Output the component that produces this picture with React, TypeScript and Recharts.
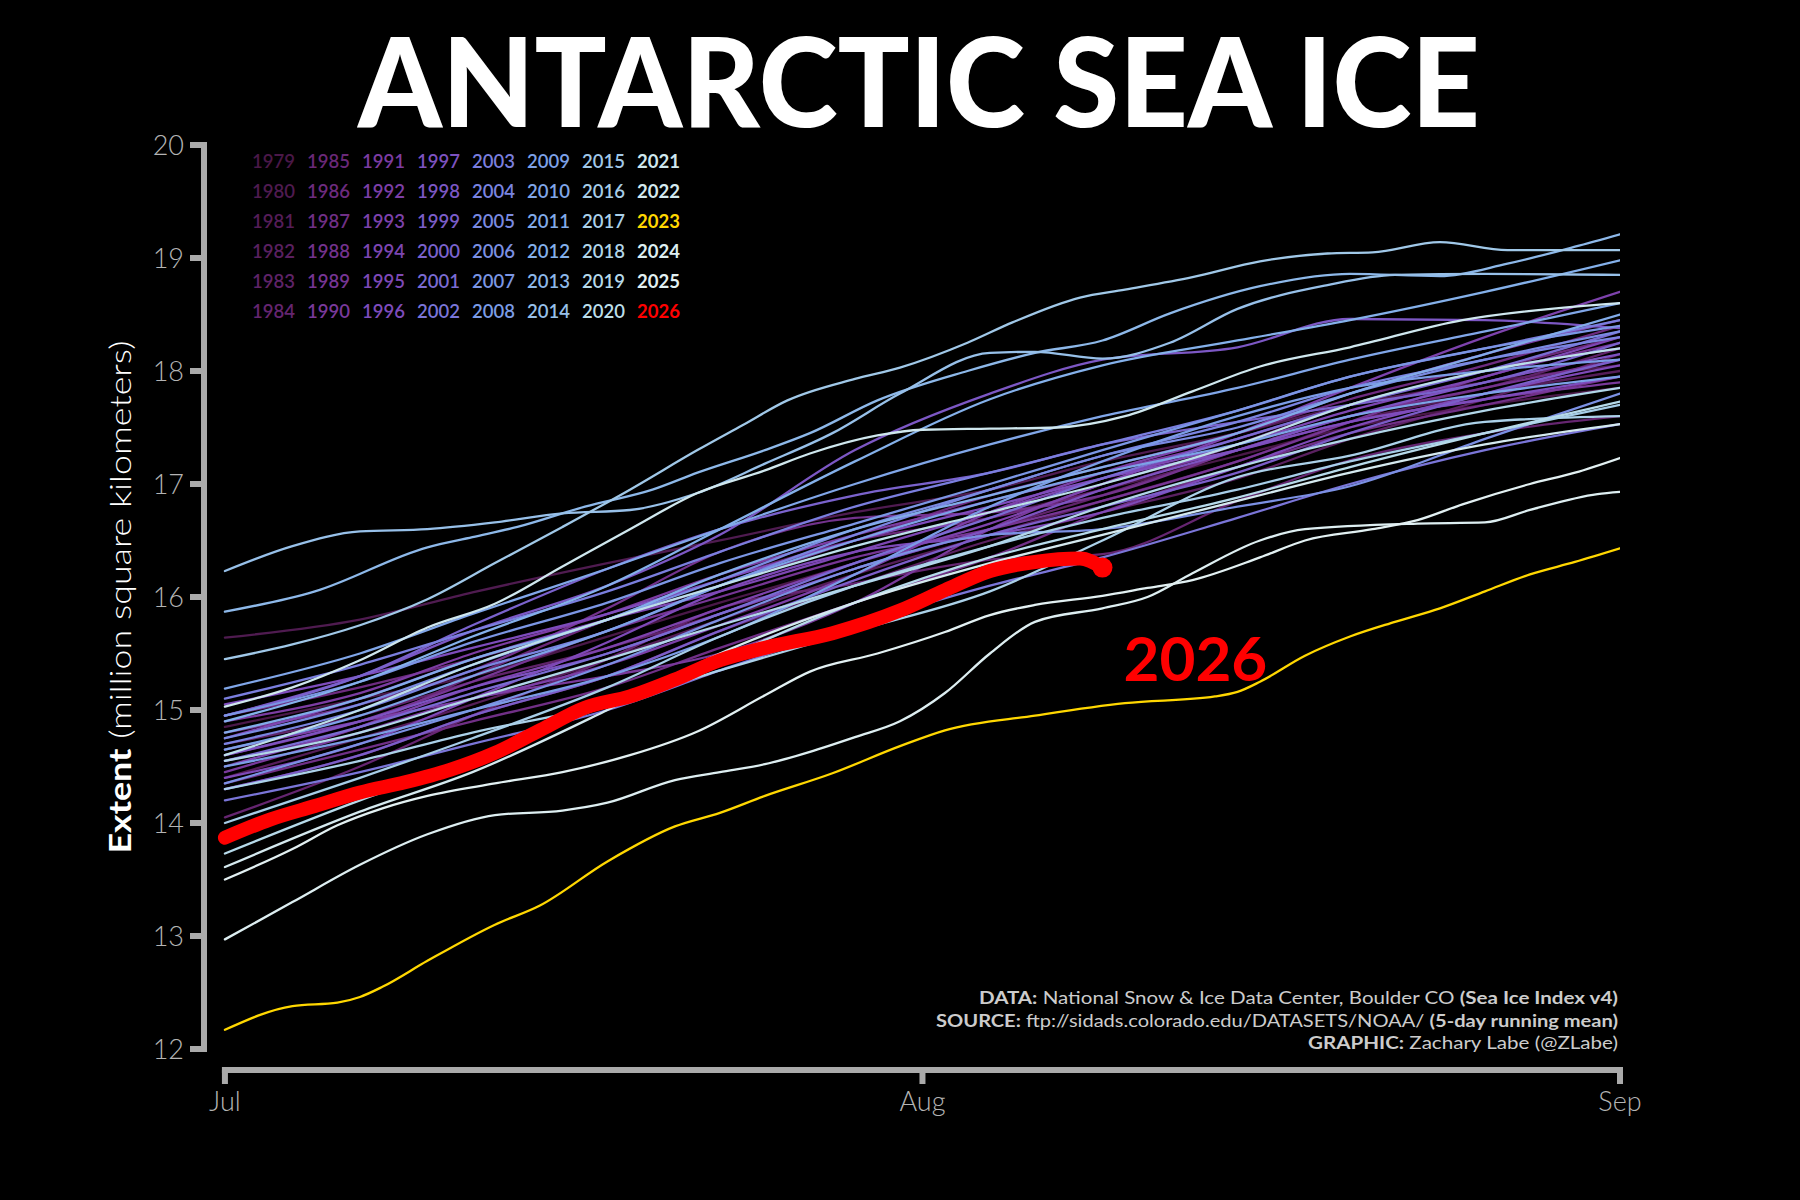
import React from 'react';
import { LineChart, Line, XAxis, YAxis, ReferenceLine, LabelList } from 'recharts';

// days since Jul 1 for the background years
const DAYS = [0, 6, 11, 17, 22, 28, 34, 39, 45, 50, 56, 62];

// million km², one row per year, sampled on DAYS
const EXTENT_1979_1984 = [
  [14.85, 15.1, 15.3, 15.65, 15.95, 16.3, 16.7, 16.95, 17.25, 17.5, 17.7, 17.85],
  [15.64, 15.8, 16.04, 16.3, 16.5, 16.75, 16.95, 17.2, 17.45, 17.7, 17.9, 18.05],
  [14.4, 14.75, 15.05, 15.45, 15.8, 16.2, 16.55, 16.85, 17.2, 17.55, 17.8, 18.0],
  [14.3, 14.6, 14.95, 15.3, 15.7, 16.1, 16.5, 16.75, 17.05, 17.4, 17.75, 18.15],
  [14.7, 14.95, 15.25, 15.55, 15.85, 16.25, 16.6, 16.9, 17.3, 17.6, 17.85, 18.2],
  [14.05, 14.5, 14.95, 15.45, 15.9, 16.12, 16.33, 16.38, 16.85, 17.21, 17.45, 17.6],
];
const EXTENT_1985_1990 = [
  [14.55, 14.85, 15.3, 15.8, 16.15, 16.5, 16.7, 16.95, 17.35, 17.7, 18.0, 18.3],
  [14.95, 15.2, 15.45, 15.8, 16.1, 16.5, 16.9, 17.15, 17.45, 17.75, 18.05, 18.4],
  [14.35, 14.65, 14.9, 15.2, 15.55, 15.95, 16.35, 16.75, 17.15, 17.45, 17.7, 17.95],
  [14.8, 15.05, 15.35, 15.9, 16.4, 16.7, 16.75, 16.9, 17.3, 17.6, 17.85, 18.1],
  [14.6, 14.9, 15.25, 15.7, 16.0, 16.35, 16.6, 16.85, 17.2, 17.55, 17.95, 18.25],
  [14.45, 14.8, 15.1, 15.3, 15.5, 15.95, 16.6, 17.0, 17.3, 17.55, 17.75, 17.9],
];
const EXTENT_1991_1996 = [
  [14.9, 15.15, 15.5, 15.85, 16.2, 16.55, 16.85, 17.1, 17.4, 17.7, 18.0, 18.2],
  [14.65, 14.9, 15.1, 15.4, 15.75, 16.2, 16.75, 17.1, 17.45, 17.8, 18.15, 18.45],
  [14.5, 14.85, 15.2, 15.55, 15.9, 16.3, 16.65, 17.0, 17.45, 17.85, 18.3, 18.7],
  [14.75, 15.1, 15.45, 15.8, 16.05, 16.4, 16.75, 17.05, 17.35, 17.65, 17.95, 18.3],
  [14.4, 14.7, 15.1, 15.6, 16.05, 16.4, 16.55, 16.75, 17.15, 17.5, 17.8, 18.05],
  [15.05, 15.3, 15.55, 15.85, 16.15, 16.5, 16.8, 17.05, 17.3, 17.55, 17.75, 17.95],
];
const EXTENT_1997_2002 = [
  [14.6, 14.9, 15.2, 15.5, 15.85, 16.25, 16.6, 16.95, 17.3, 17.6, 17.9, 18.15],
  [14.95, 15.3, 15.7, 16.1, 16.55, 17.3, 17.8, 18.1, 18.21, 18.46, 18.45, 18.38],
  [14.3, 14.6, 14.95, 15.3, 15.7, 16.15, 16.55, 16.8, 17.1, 17.45, 17.8, 18.1],
  [14.95, 15.3, 15.75, 16.25, 16.6, 16.9, 17.1, 17.35, 17.55, 17.7, 17.9, 18.25],
  [14.55, 14.85, 15.15, 15.5, 15.85, 16.3, 16.7, 17.05, 17.4, 17.7, 18.0, 18.35],
  [14.2, 14.45, 14.7, 15.0, 15.35, 15.75, 16.1, 16.35, 16.7, 17.0, 17.3, 17.53],
];
const EXTENT_2003_2008 = [
  [15.1, 15.4, 15.7, 16.05, 16.4, 16.8, 17.1, 17.35, 17.65, 17.95, 18.2, 18.45],
  [14.7, 15.0, 15.35, 15.7, 16.1, 16.55, 16.95, 17.25, 17.55, 17.85, 18.1, 18.3],
  [14.75, 15.05, 15.4, 15.8, 16.15, 16.6, 16.95, 17.25, 17.5, 17.8, 18.1, 18.35],
  [14.35, 14.7, 15.0, 15.4, 15.8, 16.25, 16.55, 16.6, 16.8, 16.98, 17.4, 17.8],
  [14.95, 15.25, 15.6, 15.95, 16.3, 16.65, 17.0, 17.3, 17.65, 17.95, 18.2, 18.4],
  [14.5, 14.75, 15.0, 15.3, 15.65, 16.2, 16.8, 17.2, 17.6, 17.85, 18.0, 18.1],
];
const EXTENT_2009_2012 = [
  [14.65, 14.95, 15.3, 15.7, 16.1, 16.5, 16.85, 17.1, 17.35, 17.6, 17.8, 17.95],
  [15.19, 15.5, 15.85, 16.25, 16.6, 17.0, 17.35, 17.6, 17.85, 18.1, 18.35, 18.6],
  [14.8, 15.1, 15.45, 15.8, 16.2, 16.6, 16.9, 17.15, 17.45, 17.8, 18.15, 18.5],
  [14.9, 15.25, 15.65, 16.1, 16.6, 17.2, 17.75, 18.05, 18.27, 18.45, 18.7, 18.98],
];
const EXTENT_2016_2020 = [
  [14.0, 14.4, 14.75, 15.2, 15.65, 16.1, 16.45, 16.7, 16.95, 17.2, 17.45, 17.7],
  [14.3, 14.55, 14.8, 15.05, 15.35, 15.7, 16.05, 16.5, 17.06, 17.25, 17.55, 17.6],
  [14.55, 14.8, 15.1, 15.45, 15.75, 16.1, 16.45, 16.8, 17.15, 17.4, 17.65, 17.85],
  [13.73, 14.2, 14.55, 15.05, 15.45, 15.95, 16.35, 16.6, 16.88, 17.15, 17.45, 17.73],
  [14.6, 15.0, 15.4, 15.8, 16.1, 16.45, 16.75, 17.0, 17.35, 17.7, 18.0, 18.2],
];
const EXTENT_2022 = [13.61, 14.1, 14.45, 15.0, 15.5, 15.95, 16.3, 16.55, 16.85, 17.1, 17.35, 17.53];

// years that stand out, read more closely: [day, extent]
const EXTENT_2013: [number, number][] = [
  [0, 15.87], [4, 16.05], [9, 16.44], [11, 16.53], [13, 16.62], [16, 16.8], [19, 16.95], [21, 17.1], [24, 17.3],
  [26, 17.45], [29, 17.74], [33, 18.0], [36, 18.16], [39, 18.27], [42, 18.51], [46, 18.75], [50, 18.86],
  [54, 18.84], [57, 18.95], [60, 19.1], [62, 19.21],
];
const EXTENT_2014: [number, number][] = [
  [0, 16.23], [3, 16.45], [6, 16.58], [9, 16.6], [12, 16.66], [15, 16.74], [18, 16.77], [21, 16.92], [24, 17.18],
  [27, 17.45], [30, 17.8], [34, 18.16], [36, 18.17], [39, 18.11], [42, 18.25], [45, 18.55], [49, 18.76],
  [52, 18.85], [56, 18.86], [62, 18.85],
];
const EXTENT_2015: [number, number][] = [
  [0, 15.45], [3, 15.58], [6, 15.75], [9, 15.98], [12, 16.3], [15, 16.62], [18, 16.95], [21, 17.3], [23, 17.52],
  [25, 17.74], [28, 17.93], [30, 18.03], [33, 18.25], [35, 18.43], [38, 18.65], [40, 18.72], [43, 18.83],
  [46, 18.97], [49, 19.04], [51, 19.05], [54, 19.14], [57, 19.07], [62, 19.07],
];
const EXTENT_2021: [number, number][] = [
  [0, 15.03], [3, 15.2], [6, 15.44], [9, 15.73], [12, 15.94], [15, 16.27], [18, 16.6], [21, 16.92], [24, 17.12],
  [26, 17.27], [29, 17.43], [31, 17.48], [34, 17.49], [37, 17.5], [40, 17.6], [43, 17.82], [46, 18.04],
  [50, 18.21], [55, 18.45], [60, 18.57], [62, 18.6],
];
const EXTENT_2023: [number, number][] = [
  [0, 12.17], [3, 12.38], [5, 12.41], [6, 12.46], [7, 12.55], [9, 12.78], [12, 13.1], [14, 13.27], [17, 13.66],
  [20, 13.97], [22, 14.09], [24, 14.24], [27, 14.44], [30, 14.68], [32, 14.82], [36, 14.95], [40, 15.06],
  [44, 15.12], [45, 15.16], [46, 15.25], [48, 15.48], [50, 15.65], [52, 15.78], [54, 15.9], [56, 16.05],
  [58, 16.2], [60, 16.31], [62, 16.43],
];
const EXTENT_2024: [number, number][] = [
  [0, 12.97], [3, 13.3], [6, 13.63], [9, 13.9], [12, 14.07], [15, 14.11], [17, 14.18], [20, 14.38], [22, 14.45],
  [24, 14.52], [26, 14.63], [28, 14.76], [30, 14.9], [32, 15.15], [34, 15.5], [36, 15.78], [39, 15.9], [41, 16.0],
  [43, 16.21], [46, 16.5], [48, 16.6], [53, 16.65], [56, 16.66], [58, 16.77], [61, 16.91], [62, 16.93],
];
const EXTENT_2025: [number, number][] = [
  [0, 13.5], [3, 13.77], [5, 13.98], [7, 14.13], [9, 14.24], [12, 14.35], [15, 14.45], [18, 14.6], [21, 14.81],
  [24, 15.13], [26, 15.34], [29, 15.5], [32, 15.69], [34, 15.84], [36, 15.93], [39, 16.01], [41, 16.08],
  [43, 16.15], [46, 16.35], [48, 16.5], [51, 16.6], [53, 16.68], [55, 16.82], [58, 17.0], [60, 17.1], [62, 17.23],
];
const EXTENT_2026: [number, number][] = [
  [0, 13.87], [2, 14.03], [4, 14.15], [6, 14.27], [8, 14.36], [10, 14.47], [12, 14.62], [14, 14.82], [16, 15.02],
  [18, 15.12], [20, 15.27], [22, 15.44], [24, 15.55], [27, 15.68], [30, 15.88], [32, 16.06], [34, 16.23],
  [36, 16.31], [38, 16.34], [39, 16.26],
];

const MONTH_TICKS = [0, 31, 62];
const MONTH_LABELS = ['Jul', 'Aug', 'Sep'];
const EXTENT_TICKS = [12, 13, 14, 15, 16, 17, 18, 19, 20];
const FIRST_YEAR = 1979;
const LAST_YEAR = 2026;

const FONT = 'Lato, "Open Sans", sans-serif';
const AXIS = '#aaaaaa';
// the spines are offset from the data, as in the original
const X_MIN = -0.93;
const Y_MIN = 11.814;

const COLOR_STOPS: [number, string][] = [
  [1979, '#4a1848'], [1985, '#6a2878'], [1991, '#7c3ca2'], [1996, '#7e4cbc'], [2000, '#7a62cc'],
  [2003, '#7a7ede'], [2008, '#7b9ce6'], [2012, '#84b0ea'], [2015, '#a0c8e8'], [2020, '#bcdfea'],
  [2021, '#cfe7ee'], [2025, '#e2f0f2'],
];

function mix(a: string, b: string, t: number) {
  const pa = [1, 3, 5].map((i) => parseInt(a.slice(i, i + 2), 16));
  const pb = [1, 3, 5].map((i) => parseInt(b.slice(i, i + 2), 16));
  return '#' + pa.map((v, i) => Math.round(v + (pb[i] - v) * t).toString(16).padStart(2, '0')).join('');
}

function yearColor(year: number) {
  if (year === 2023) return '#ffd700';
  if (year === 2026) return '#ff0000';
  for (let i = 0; i < COLOR_STOPS.length - 1; i++) {
    const [y0, c0] = COLOR_STOPS[i];
    const [y1, c1] = COLOR_STOPS[i + 1];
    if (year <= y1) return mix(c0, c1, (year - y0) / (y1 - y0));
  }
  return COLOR_STOPS[COLOR_STOPS.length - 1][1];
}

type Pt = { day: number; extent: number };
const onGrid = (vals: number[]): Pt[] => vals.map((v, i) => ({ day: DAYS[i], extent: v }));
const fromPairs = (p: [number, number][]): Pt[] => p.map(([day, extent]) => ({ day, extent }));

const series: { year: number; points: Pt[] }[] = [
  ...EXTENT_1979_1984.map((v, i) => ({ year: 1979 + i, points: onGrid(v) })),
  ...EXTENT_1985_1990.map((v, i) => ({ year: 1985 + i, points: onGrid(v) })),
  ...EXTENT_1991_1996.map((v, i) => ({ year: 1991 + i, points: onGrid(v) })),
  ...EXTENT_1997_2002.map((v, i) => ({ year: 1997 + i, points: onGrid(v) })),
  ...EXTENT_2003_2008.map((v, i) => ({ year: 2003 + i, points: onGrid(v) })),
  ...EXTENT_2009_2012.map((v, i) => ({ year: 2009 + i, points: onGrid(v) })),
  { year: 2013, points: fromPairs(EXTENT_2013) },
  { year: 2014, points: fromPairs(EXTENT_2014) },
  { year: 2015, points: fromPairs(EXTENT_2015) },
  ...EXTENT_2016_2020.map((v, i) => ({ year: 2016 + i, points: onGrid(v) })),
  { year: 2021, points: fromPairs(EXTENT_2021) },
  { year: 2022, points: onGrid(EXTENT_2022) },
  { year: 2023, points: fromPairs(EXTENT_2023) },
  { year: 2024, points: fromPairs(EXTENT_2024) },
  { year: 2025, points: fromPairs(EXTENT_2025) },
  { year: 2026, points: fromPairs(EXTENT_2026) },
];

const LAST_2026 = EXTENT_2026.length - 1;

function Legend() {
  const years: number[] = [];
  for (let y = FIRST_YEAR; y <= LAST_YEAR; y++) years.push(y);
  return (
    <g fontFamily={FONT} fontSize={18.5}>
      {years.map((y, i) => (
        <text key={y} x={252 + Math.floor(i / 6) * 55} y={168 + (i % 6) * 30} fill={yearColor(y)}
          fontWeight={y >= 2021 ? 700 : 600}>
          {y}
        </text>
      ))}
    </g>
  );
}

export default function App() {
  return (
    <div style={{ position: 'relative', width: 1800, height: 1200, background: '#000' }}>
      <style>{'body{margin:0;background:#000;}'}</style>
      <LineChart width={1800} height={1200} margin={{ top: 145, right: 180, bottom: 50, left: 104 }}>
        <XAxis
          type="number" dataKey="day" domain={[X_MIN, 62]} allowDataOverflow ticks={MONTH_TICKS} interval={0}
          tickFormatter={(v) => MONTH_LABELS[MONTH_TICKS.indexOf(v)] ?? ''}
          axisLine={false} tickLine={{ stroke: AXIS, strokeWidth: 6 }} tickSize={14} tickMargin={8} height={80}
          tick={{ fill: '#b4b4b4', fontSize: 27, fontFamily: FONT, fontWeight: 300 }}
        />
        <YAxis
          type="number" domain={[Y_MIN, 20]} allowDataOverflow ticks={EXTENT_TICKS} interval={0}
          axisLine={false} tickLine={{ stroke: AXIS, strokeWidth: 6 }} tickSize={14} tickMargin={6} width={100}
          tick={{ fill: '#b4b4b4', fontSize: 27, fontFamily: FONT, fontWeight: 300 }}
        />
        <ReferenceLine segment={[{ x: X_MIN, y: 12 }, { x: X_MIN, y: 20 }]} stroke={AXIS} strokeWidth={6}
          strokeLinecap="square" ifOverflow="visible" />
        <ReferenceLine segment={[{ x: 0, y: Y_MIN }, { x: 62, y: Y_MIN }]} stroke={AXIS} strokeWidth={6}
          strokeLinecap="square" ifOverflow="visible" />
        {series.map((s) => {
          const current = s.year === 2026;
          return (
            <Line
              key={s.year} data={s.points} dataKey="extent" type="monotone" stroke={yearColor(s.year)}
              strokeWidth={current ? 14 : 2.3} strokeLinecap="round" isAnimationActive={false}
              dot={current
                ? (p: any) => p.index === LAST_2026
                  ? <circle key="end" cx={p.cx} cy={p.cy} r={10} fill="#ff0000" />
                  : <g key={`d${p.index}`} />
                : false}
            >
              {current && (
                <LabelList dataKey="extent" content={(p: any) => p.index === LAST_2026
                  ? <text x={p.x + 21} y={p.y + 113} fill="#ff0000" fontFamily={FONT} fontWeight={700} fontSize={62}>2026</text>
                  : null} />
              )}
            </Line>
          );
        })}
      </LineChart>
      <svg width={1800} height={1200} style={{ position: 'absolute', left: 0, top: 0, pointerEvents: 'none' }}>
        <text x={919} y={127} textAnchor="middle" fill="#fff" fontFamily={FONT} fontWeight={900} fontSize={124}
          textLength={1122} lengthAdjust="spacingAndGlyphs">
          ANTARCTIC SEA ICE
        </text>
        <Legend />
        <text transform="translate(131,597) rotate(-90)" textAnchor="middle" fill="#fff" fontFamily={FONT} fontSize={30}
          textLength={513} lengthAdjust="spacingAndGlyphs">
          <tspan fontWeight={700}>Extent</tspan>
          <tspan fontWeight={300}> (million square kilometers)</tspan>
        </text>
        <g fontFamily={FONT} fontSize={16.5} fill="#cccccc" textAnchor="end">
          <text x={1618} y={1004} textLength={639} lengthAdjust="spacingAndGlyphs">
            <tspan fontWeight={700}>DATA:</tspan> National Snow &amp; Ice Data Center, Boulder CO <tspan fontWeight={700}>(Sea Ice Index v4)</tspan>
          </text>
          <text x={1618} y={1027} textLength={682} lengthAdjust="spacingAndGlyphs">
            <tspan fontWeight={700}>SOURCE:</tspan> ftp://sidads.colorado.edu/DATASETS/NOAA/ <tspan fontWeight={700}>(5-day running mean)</tspan>
          </text>
          <text x={1618} y={1049} textLength={310} lengthAdjust="spacingAndGlyphs">
            <tspan fontWeight={700}>GRAPHIC:</tspan> Zachary Labe (@ZLabe)
          </text>
        </g>
      </svg>
    </div>
  );
}
